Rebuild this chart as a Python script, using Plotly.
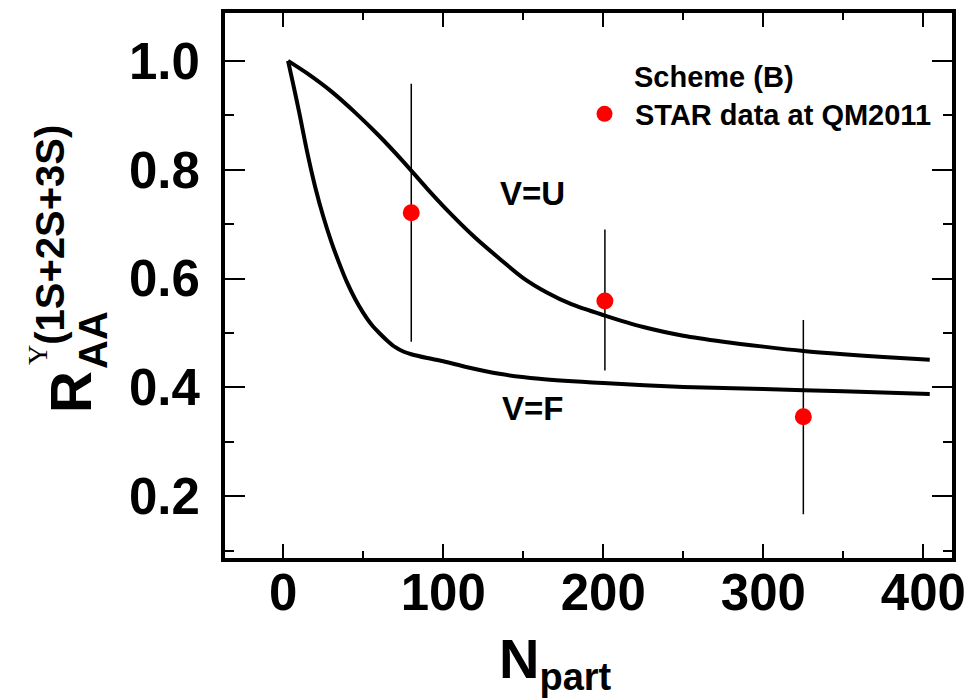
import plotly.graph_objects as go

# ---- data ----
npart_star = [80, 201, 325]
raa_star = [0.721, 0.559, 0.346]
err_up = [0.237, 0.131, 0.178]
err_down = [0.237, 0.128, 0.179]

npart_vu = [3, 15, 30, 45, 60, 75, 90, 105, 120, 135, 150, 165, 180, 200, 225, 250, 275, 300, 325, 350, 375, 404]
raa_vu = [1.000, 0.977, 0.944, 0.905, 0.862, 0.815, 0.765, 0.718, 0.675, 0.637, 0.601, 0.574, 0.553,
          0.533, 0.511, 0.495, 0.484, 0.475, 0.467, 0.461, 0.456, 0.451]

npart_vf = [3, 6, 10, 15, 20, 25, 30, 35, 40, 45, 50, 55, 60, 65, 70, 75, 80, 90, 100, 115, 135, 160, 200, 250, 300, 350, 404]
raa_vf = [1.000, 0.960, 0.905, 0.832, 0.768, 0.714, 0.668, 0.628, 0.592, 0.562, 0.537, 0.516, 0.500, 0.486,
          0.474, 0.466, 0.461, 0.454, 0.448, 0.437, 0.425, 0.416, 0.408, 0.401, 0.397, 0.393, 0.388]

x_ticks = [0, 100, 200, 300, 400]
y_ticks = [0.2, 0.4, 0.6, 0.8, 1.0]
y_tick_labels = ["0.2", "0.4", "0.6", "0.8", "1.0"]

FONT = "Liberation Sans, Arial, Helvetica, sans-serif"

fig = go.Figure()
fig.add_trace(go.Scatter(x=npart_vu, y=raa_vu, mode="lines", line=dict(color="black", width=4, shape="spline", smoothing=0.8), showlegend=False))
fig.add_trace(go.Scatter(x=npart_vf, y=raa_vf, mode="lines", line=dict(color="black", width=4, shape="spline", smoothing=0.8), showlegend=False))
fig.add_trace(go.Scatter(
    x=npart_star, y=raa_star, mode="markers", name="STAR data at QM2011",
    marker=dict(color="#ff0000", size=17, line=dict(width=0)),
    error_y=dict(type="data", symmetric=False, array=err_up, arrayminus=err_down, color="black", thickness=1.5, width=0),
    showlegend=True))

axis_common = dict(showline=True, linewidth=4, linecolor="black", mirror="ticks", ticks="inside",
                   tickwidth=2, tickcolor="black", showgrid=False, zeroline=False, automargin=False,
                   tickfont=dict(family=FONT, size=51, color="black", weight="bold"))

fig.update_layout(
    width=972, height=700,
    margin=dict(l=225, r=20, t=13, b=142),
    paper_bgcolor="white", plot_bgcolor="white",
    xaxis=dict(range=[-36.4, 417.9], tickvals=x_ticks, ticklen=14, ticklabelstandoff=-13,
               minor=dict(ticks="inside", ticklen=7, tickwidth=2, tickcolor="black", dtick=50, tick0=0, showgrid=False),
               **axis_common),
    yaxis=dict(range=[0.0866, 1.088], tickvals=y_ticks, ticktext=y_tick_labels, ticklen=20, ticklabelstandoff=11,
               minor=dict(ticks="inside", ticklen=9, tickwidth=2, tickcolor="black", dtick=0.1, tick0=0, showgrid=False),
               **axis_common),
    legend=dict(x=(574 - 225) / 727, y=(558 - 114) / 545, xanchor="left", yanchor="middle", bgcolor="rgba(0,0,0,0)",
                itemwidth=51, font=dict(family=FONT, size=29, color="black", weight="bold")),
    showlegend=True,
)

ann_font = dict(family=FONT, color="black", weight="bold")
fig.add_annotation(text="Scheme (B)", xref="paper", yref="paper", x=(632 - 225) / 727, y=(558 - 77) / 545,
                   xanchor="left", yanchor="middle", showarrow=False, font=dict(size=29, **ann_font))
fig.add_annotation(text="V=U", x=156, y=0.757, showarrow=False, font=dict(size=33, **ann_font))
fig.add_annotation(text="V=F", x=155.6, y=0.361, showarrow=False, font=dict(size=33, **ann_font))

# x-axis title
fig.add_annotation(text="N<sub><span style=\"font-size:38px\">part</span></sub>", xref="paper", yref="paper",
                   x=(497 - 225) / 727, y=(558 - 662) / 545,
                   xanchor="left", yanchor="middle", showarrow=False, font=dict(size=56, **ann_font))
# y-axis title pieces (stacked sub/superscript)
fig.add_annotation(text="R", xref="paper", yref="paper", x=(70 - 225) / 727, y=(558 - 392) / 545,
                   textangle=-90, xanchor="center", yanchor="middle", showarrow=False, font=dict(size=58, **ann_font))
fig.add_annotation(text="AA", xref="paper", yref="paper", x=(93 - 225) / 727, y=(558 - 340) / 545,
                   textangle=-90, xanchor="center", yanchor="middle", showarrow=False, font=dict(size=40, **ann_font))
fig.add_annotation(text="<sup><span style=\"font-family:'Liberation Serif';font-weight:normal\">Υ</span></sup>(1S+2S+3S)",
                   xref="paper", yref="paper", x=(47 - 225) / 727, y=(558 - 245) / 545,
                   textangle=-90, xanchor="center", yanchor="middle", showarrow=False, font=dict(size=40, **ann_font))

fig.write_html("out.html")
